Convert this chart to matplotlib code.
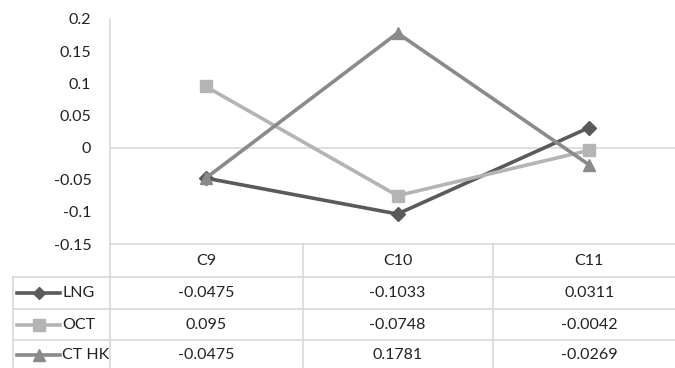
import matplotlib.pyplot as plt
from matplotlib.lines import Line2D
from matplotlib.transforms import blended_transform_factory

categories = ["C9", "C10", "C11"]
series_names = ["LNG", "OCT", "CT HK"]
lng = [-0.0475, -0.1033, 0.0311]
oct_ = [0.095, -0.0748, -0.0042]
ct_hk = [-0.0475, 0.1781, -0.0269]
cell_text = [["-0.0475", "-0.1033", "0.0311"],
             ["0.095", "-0.0748", "-0.0042"],
             ["-0.0475", "0.1781", "-0.0269"]]
y_ticks = [0.2, 0.15, 0.1, 0.05, 0, -0.05, -0.1, -0.15]
y_labels = ["0.2", "0.15", "0.1", "0.05", "0", "-0.05", "-0.1", "-0.15"]

colors = ["#5a5a5a", "#b4b4b4", "#8a8a8a"]
markers = ["D", "s", "^"]
msizes = [7, 9, 9]
grid_c = "#d9d9d9"

plt.rcParams['font.family'] = ['Lato', 'DejaVu Sans']
W, H = 675, 368
fig = plt.figure(figsize=(W / 100, H / 100), dpi=100)

# plot area in pixel coordinates
left, right, top, bottom = 110, 685, 19, 244
ax = fig.add_axes([left / W, 1 - bottom / H, (right - left) / W, (bottom - top) / H])
ax.set_xlim(-0.5, len(categories) - 0.5)
ax.set_ylim(-0.15, 0.2)

x = list(range(len(categories)))
for vals, c, m, ms, name in zip([lng, oct_, ct_hk], colors, markers, msizes, series_names):
    ax.plot(x, vals, color=c, lw=2.6, marker=m, markersize=ms, label=name,
            solid_joinstyle="miter", zorder=3)

ax.axhline(0, color=grid_c, lw=1.2, zorder=1)
ax.set_yticks(y_ticks)
ax.set_yticklabels(y_labels, fontsize=11.5, color="#222222")
ax.tick_params(axis="y", length=0, pad=13.5)
ax.set_xticks([])
for s in ["top", "right", "bottom"]:
    ax.spines[s].set_visible(False)
ax.spines["left"].set_color(grid_c)
ax.spines["left"].set_linewidth(1.2)


# data table under the chart
def fy(py):
    return 1 - py / H


def fx(px):
    return px / W


row_lines = [244, 277, 309, 340]
col_lines = [110, 303, 493]
tab_left = 13
for i, py in enumerate(row_lines):
    x0 = left if i == 0 else tab_left
    fig.add_artist(Line2D([fx(x0), 1.0], [fy(py), fy(py)], color=grid_c, lw=1.2))
for px in col_lines:
    fig.add_artist(Line2D([fx(px), fx(px)], [fy(244), 0], color=grid_c, lw=1.2))
fig.add_artist(Line2D([fx(tab_left), fx(tab_left)], [fy(277), 0], color=grid_c, lw=1.2))

trans = blended_transform_factory(ax.transData, fig.transFigure)
row_centers = [293, 325, 355]
for j, cat in enumerate(categories):
    fig.text(j, fy(261), cat, transform=trans, ha="center", va="center",
             fontsize=11.5, color="#222222")
    for i in range(len(series_names)):
        fig.text(j, fy(row_centers[i]), cell_text[i][j], transform=trans,
                 ha="center", va="center", fontsize=11.5, color="#222222")

# legend keys inside the row headers
for i, name in enumerate(series_names):
    yy = fy(row_centers[i])
    fig.add_artist(Line2D([fx(17), fx(60)], [yy, yy], color=colors[i], lw=2.6))
    fig.add_artist(Line2D([fx(38.5)], [yy], color=colors[i], marker=markers[i],
                          markersize=msizes[i] - 1, lw=0))
    fig.text(fx(62), yy, name, ha="left", va="center", fontsize=11.5, color="#222222")

fig.savefig("out.png", dpi=100)
